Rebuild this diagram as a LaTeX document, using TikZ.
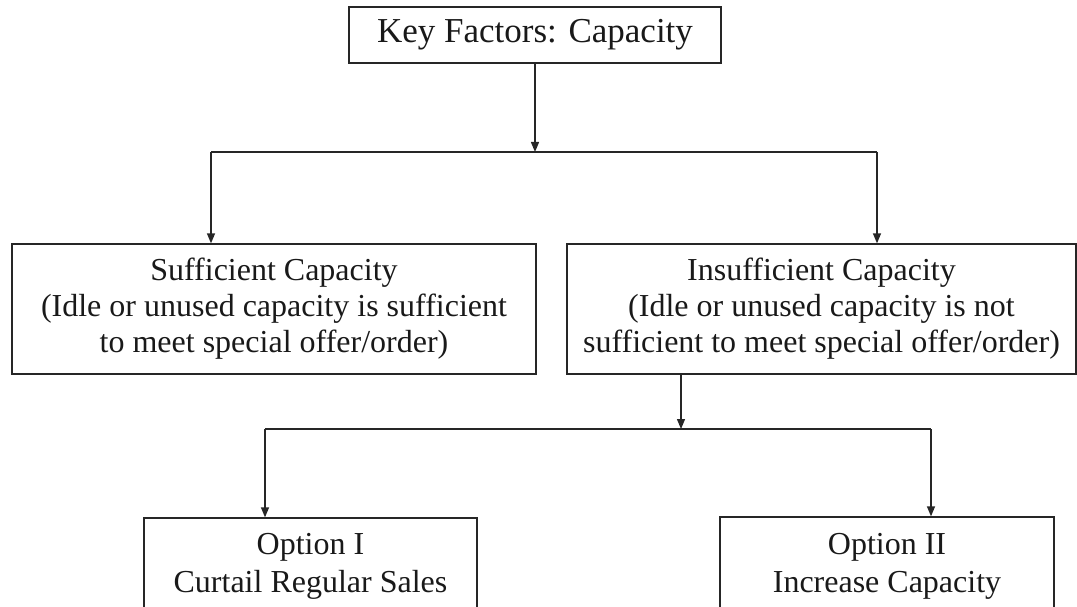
\documentclass[tikz,border=0pt]{standalone}
\usepackage{fontspec}
\setmainfont{Liberation Serif}
\usetikzlibrary{arrows.meta}
\begin{document}
\begin{tikzpicture}[x=1pt,y=1pt,
  box/.style={draw=black!85, line width=1.3pt, rectangle, inner sep=0pt, align=center, text=black!90},
  link/.style={draw=black!85, line width=1.3pt},
  arr/.style={link, -{Triangle[length=10pt,width=8pt]}, shorten >=0pt}]
\clip (0,0) rectangle (1077,-607);
\node[box, minimum width=372pt, minimum height=56pt, font=\fontsize{35}{40}\selectfont] (top) at (535,-35) {Key Factors: Capacity};
\node[box, minimum width=524pt, minimum height=130pt, font=\fontsize{32}{36}\selectfont] (suf) at (274,-309)
  {Sufficient Capacity\\(Idle or unused capacity is sufficient\\to meet special offer/order)};
\node[box, minimum width=509pt, minimum height=130pt, font=\fontsize{32}{36}\selectfont] (ins) at (821.5,-309)
  {Insufficient Capacity\\(Idle or unused capacity is not\\sufficient to meet special offer/order)};
\node[box, minimum width=333pt, minimum height=96pt, font=\fontsize{32}{38}\selectfont] (opt1) at (310.5,-566)
  {Option I\\Curtail Regular Sales};
\node[box, minimum width=334pt, minimum height=98pt, font=\fontsize{32}{38}\selectfont] (opt2) at (887,-566)
  {Option II\\Increase Capacity};
\coordinate (h1L) at (211,-152);
\coordinate (h1R) at (877,-152);
\coordinate (h2L) at (265,-429);
\coordinate (h2R) at (931,-429);
\draw[arr] (top.south) -- (top.south |- h1L);
\draw[link] (h1L) -- (h1R);
\draw[arr] (h1L) -- (h1L |- suf.north);
\draw[arr] (h1R) -- (h1R |- ins.north);
\draw[arr] ([xshift=-140.5pt]ins.south) -- ([xshift=-140.5pt]ins.south |- h2L);
\draw[link] (h2L) -- (h2R);
\draw[arr] (h2L) -- (h2L |- opt1.north);
\draw[arr] (h2R) -- (h2R |- opt2.north);
\end{tikzpicture}
\end{document}
